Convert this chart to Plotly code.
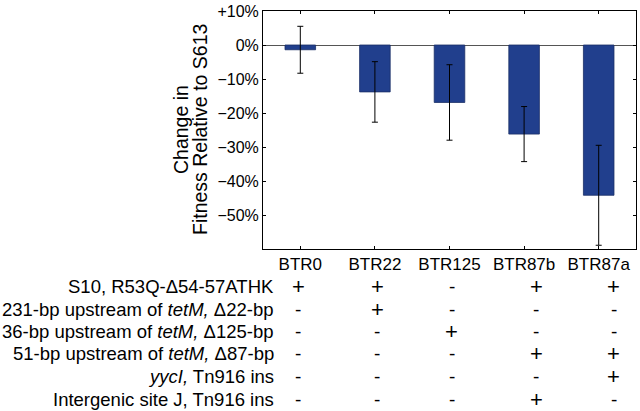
import plotly.graph_objects as go

# ---- data ----
strains = ["BTR0", "BTR22", "BTR125", "BTR87b", "BTR87a"]
fitness_change = [-1.4, -13.8, -16.9, -26.2, -44.2]   # percent
error = [6.9, 8.9, 11.1, 8.1, 14.7]                  # percent (symmetric)

y_tickvals = [10, 0, -10, -20, -30, -40, -50]
y_ticktext = ["+10%", "0%", "\u221210%", "\u221220%", "\u221230%", "\u221240%", "\u221250%"]
y_title_lines = ["Change in", "Fitness Relative to S613"]

row_labels = [
    "S10, R53Q-\u039454-57ATHK",
    "231-bp upstream of <i>tetM,</i> \u039422-bp",
    "36-bp upstream of <i>tetM,</i> \u0394125-bp",
    "51-bp upstream of <i>tetM,</i> \u039487-bp",
    "<i>yycI,</i> Tn916 ins",
    "Intergenic site J, Tn916 ins",
]
row_signs = [
    ["+", "+", "-", "+", "+"],
    ["-", "+", "-", "-", "-"],
    ["-", "-", "+", "-", "-"],
    ["-", "-", "-", "+", "+"],
    ["-", "-", "-", "-", "+"],
    ["-", "-", "-", "+", "-"],
]

# ---- layout helpers ----
FONT = "Liberation Sans, Arial, sans-serif"
col_x = [-0.03, 1.03, 2.03, 3.16, 4.20]       # table column positions (axis units)
row_shift = [-37.0, -60.5, -82.5, -104.5, -127.5, -150.5]  # px below plot bottom
title_shift = [-82, -63]                      # px left of plot edge

fig = go.Figure()
fig.add_trace(go.Bar(
    x=list(range(len(strains))), y=fitness_change, width=0.41,
    marker=dict(color="#213f8d", line=dict(color="#1a2f66", width=0.8)),
    error_y=dict(type="data", array=error, visible=True, color="black",
                 thickness=1, width=3),
    hoverinfo="skip",
))

annotations = []
for t, xs in zip(y_title_lines, title_shift):
    annotations.append(dict(
        text=t, xref="paper", yref="paper", x=0, y=0.5, xshift=xs,
        xanchor="center", yanchor="middle", textangle=-90, showarrow=False,
        font=dict(family=FONT, size=19.5, color="black")))
for r, (lab, signs) in enumerate(zip(row_labels, row_signs)):
    ys = row_shift[r]
    annotations.append(dict(
        text=lab, xref="paper", yref="paper", x=0.0355, y=0, yshift=ys,
        xanchor="right", yanchor="middle", showarrow=False,
        font=dict(family=FONT, size=18.5, color="black")))
    for c, s in enumerate(signs):
        annotations.append(dict(
            text=s, xref="x", yref="paper", x=col_x[c], y=0, yshift=ys,
            xanchor="center", yanchor="middle", showarrow=False,
            font=dict(family=FONT, size=22 if s == "+" else 19, color="black")))

fig.update_layout(
    width=640, height=411,
    margin=dict(l=263, r=3, t=8, b=162),
    paper_bgcolor="white", plot_bgcolor="white",
    showlegend=False,
    font=dict(family=FONT, size=16, color="black"),
    annotations=annotations,
    xaxis=dict(
        range=[-0.5, 4.5], tickvals=list(range(len(strains))), ticktext=strains,
        ticks="inside", ticklen=3, tickcolor="black",
        showline=True, linecolor="black", linewidth=1, mirror="ticks",
        showgrid=False, zeroline=False,
        tickfont=dict(family=FONT, size=17, color="black"),
    ),
    yaxis=dict(
        range=[-60, 10], tickvals=y_tickvals, ticktext=y_ticktext,
        ticks="inside", ticklen=3, tickcolor="black",
        showline=True, linecolor="black", linewidth=1, mirror="ticks",
        showgrid=False, zeroline=True, zerolinecolor="#555555", zerolinewidth=1,
        ticklabeloverflow="allow",
        tickfont=dict(family=FONT, size=16, color="black"),
    ),
)

fig.write_html("out.html", config={"displayModeBar": False},
               post_script="document.body.style.margin='0';document.body.style.overflow='hidden';")
